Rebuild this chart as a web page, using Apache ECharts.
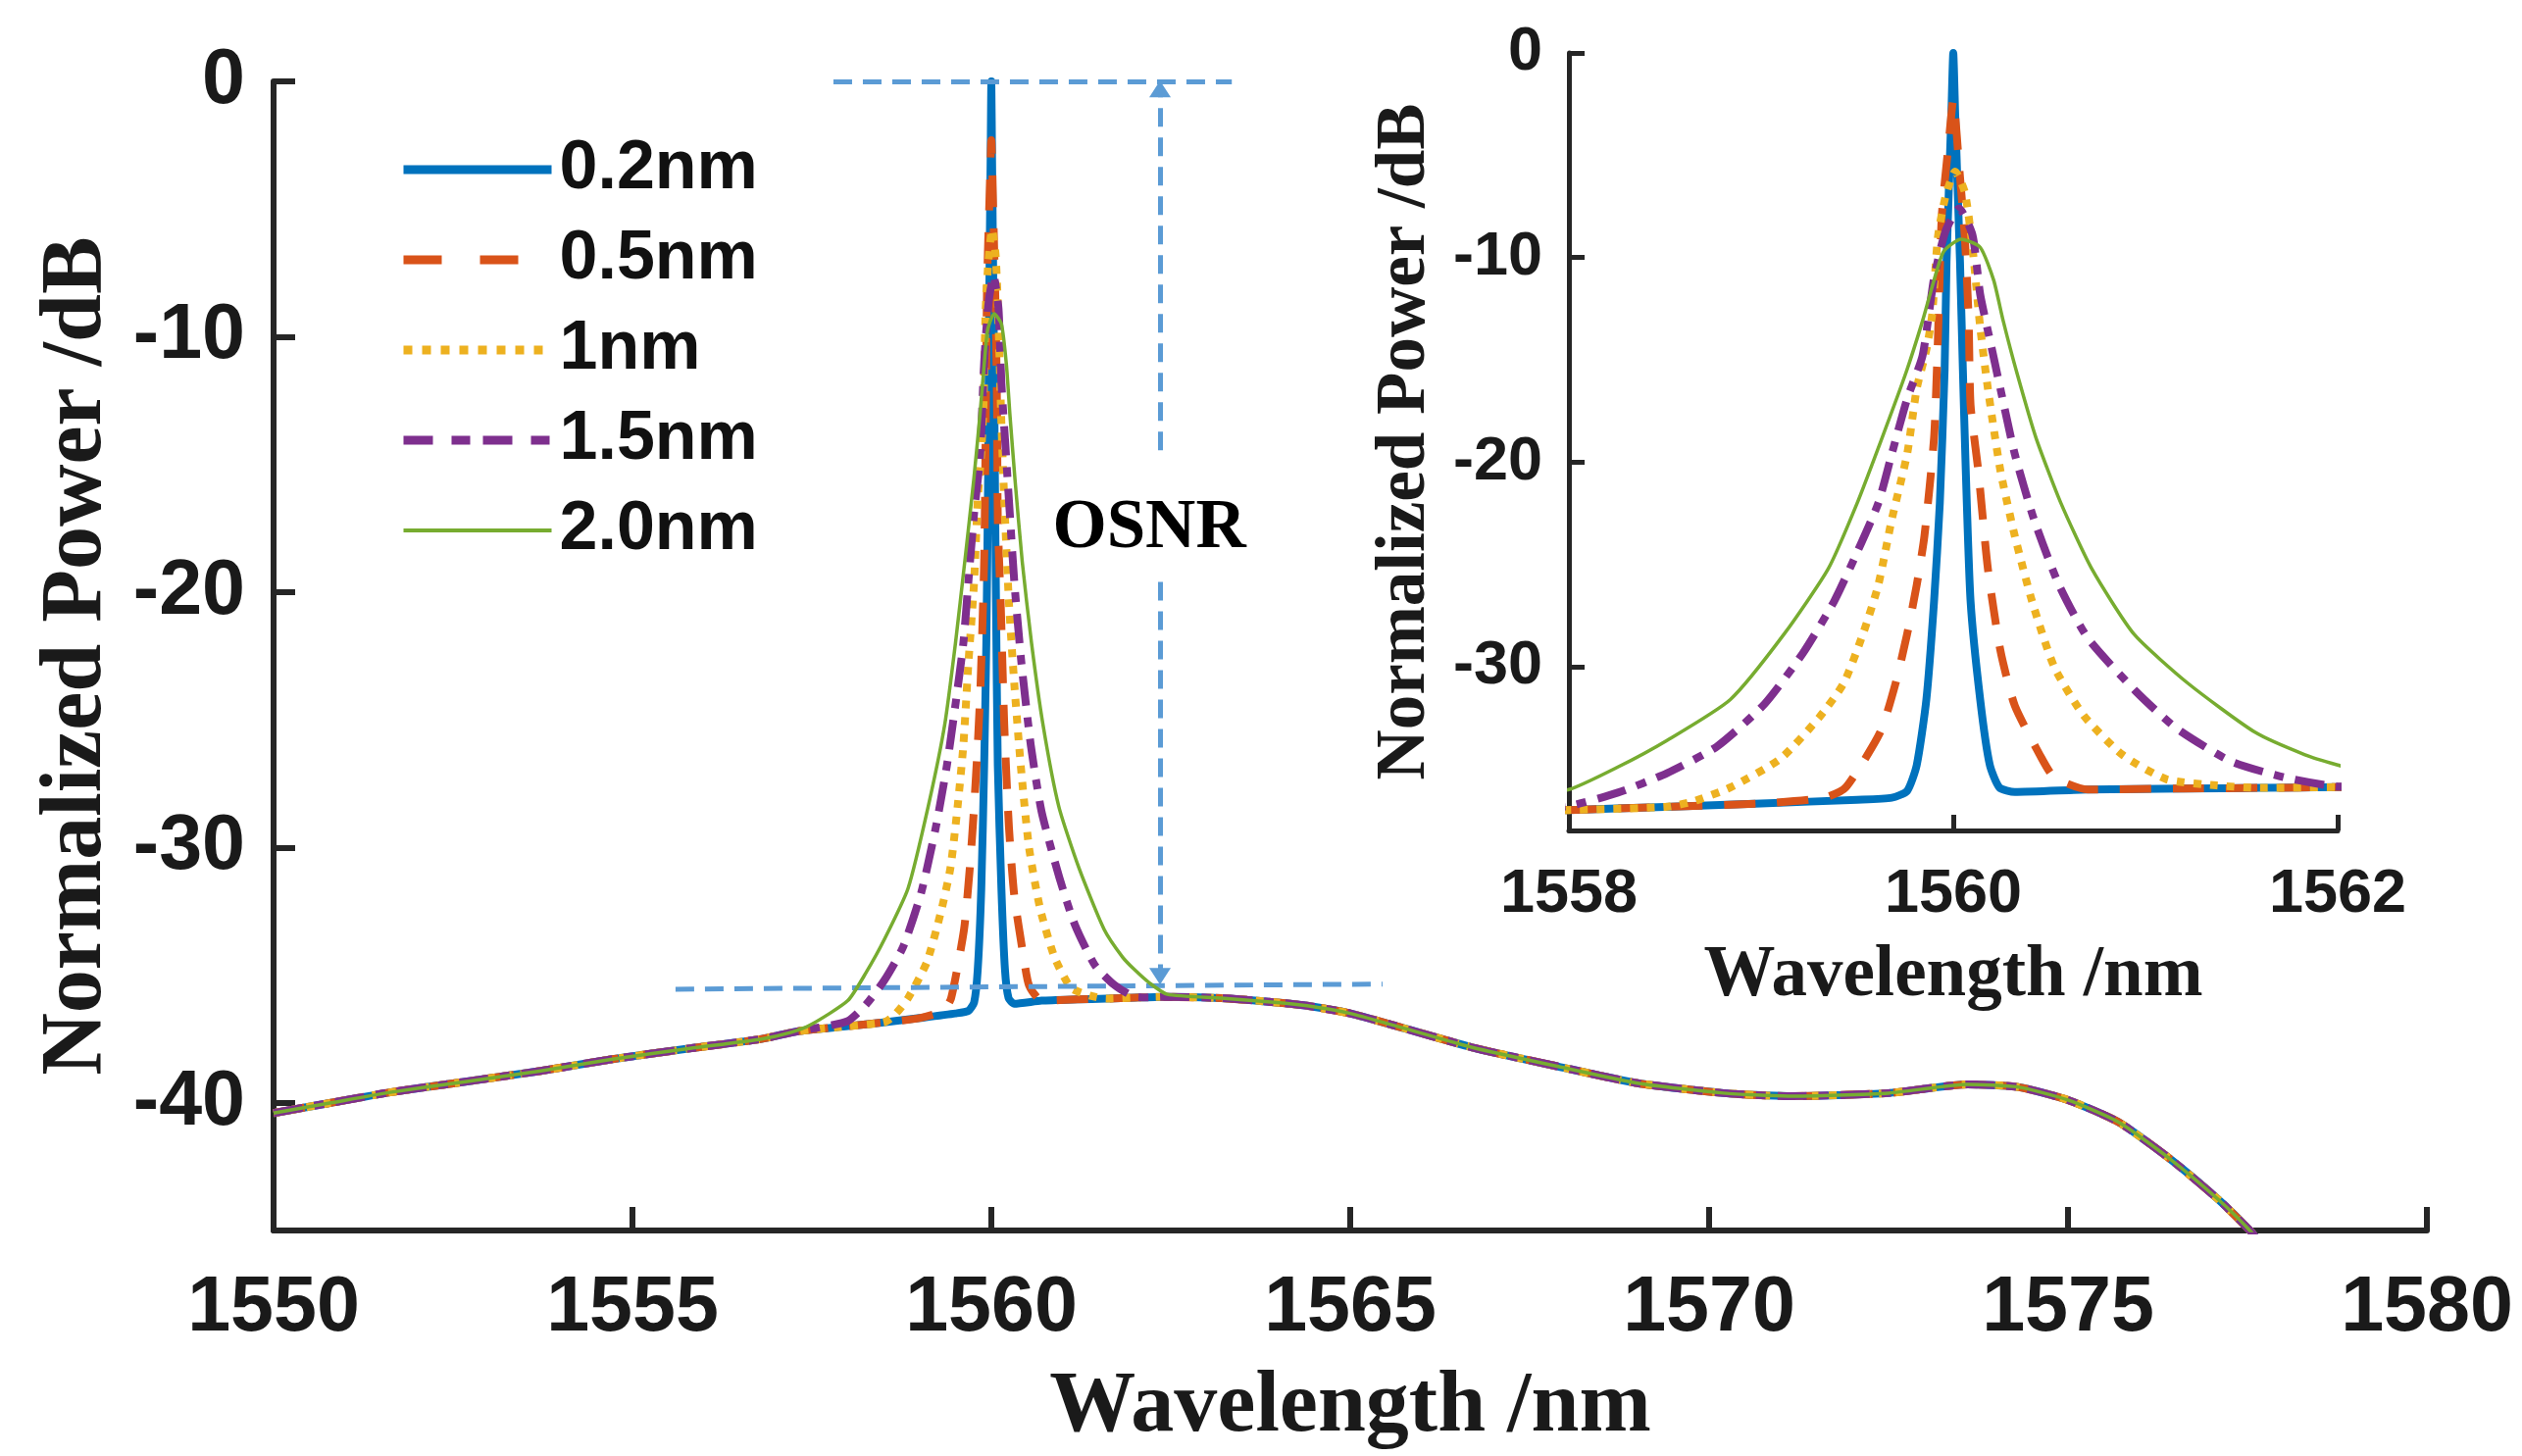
<!DOCTYPE html>
<html>
<head>
<meta charset="utf-8">
<script src="https://cdn.jsdelivr.net/npm/echarts@6/dist/echarts.min.js"></script>
<style>
html,body{margin:0;padding:0;background:#ffffff;}
#chart{width:2572px;height:1485px;}
</style>
</head>
<body>
<div id="chart"></div>
<script>
// ---------------- data ----------------
const seriesNames = ['0.2nm', '0.5nm', '1nm', '1.5nm', '2.0nm'];
const seriesColors = ['#0072BD', '#D95319', '#EDB120', '#7E2F8E', '#77AC30'];

// common ASE background spectrum [wavelength nm, power dB]
const aseBaseline = [
  [1550,-40.4],[1550.8,-40.0],[1551.6,-39.6],[1552.6,-39.2],[1553.7,-38.76],[1554.7,-38.3],
  [1555.8,-37.87],[1556.8,-37.5],[1557.3,-37.2],[1558,-37.0],[1558.5,-36.85],[1559,-36.68],
  [1559.5,-36.5],[1559.68,-36.4],[1560.32,-36.1],[1560.7,-36.0],[1561.2,-35.95],[1561.6,-35.92],
  [1562,-35.88],[1562.4,-35.85],[1563.2,-35.9],[1563.9,-36.05],[1564.4,-36.2],[1565.0,-36.5],
  [1565.6,-36.96],[1566.7,-37.83],[1567.9,-38.58],[1569.0,-39.23],[1570.2,-39.62],[1571.1,-39.74],
  [1572.5,-39.62],[1573.6,-39.28],[1574.3,-39.38],[1575.0,-39.89],[1575.7,-40.75],[1576.4,-42.15],
  [1577.1,-43.8],[1577.55,-45.05],[1577.7,-45.6]
];

// signal peaks around 1560 nm for each filter bandwidth
const peak02 = [
  [1559.5,-36.5],[1559.68,-36.4],[1559.76,-36.07],[1559.81,-34.8],[1559.86,-31.6],[1559.9,-26.8],
  [1559.93,-22],[1559.955,-15.5],[1559.965,-10.2],[1559.99,-3],[1560,0],[1560.01,-3],
  [1560.035,-10.2],[1560.05,-15.5],[1560.065,-20.4],[1560.09,-26.8],[1560.14,-31.6],[1560.19,-34.8],
  [1560.24,-35.9],[1560.32,-36.12]
];
const peak05 = [
  [1559.0,-36.68],[1559.33,-36.4],[1559.44,-35.9],[1559.62,-33.2],[1559.7,-30.8],[1559.76,-28.4],
  [1559.81,-26],[1559.85,-23.6],[1559.9,-18.8],[1559.92,-14],[1559.94,-8],[1559.975,-4.5],
  [1560,-2.3],[1560.03,-5.5],[1560.06,-9],[1560.08,-13],[1560.09,-17.2],[1560.13,-20.4],
  [1560.18,-25.2],[1560.245,-29.2],[1560.32,-31.9],[1560.45,-34.3],[1560.525,-35.4],[1560.7,-36.0]
];
const peak10 = [
  [1558.5,-36.85],[1558.64,-36.6],[1558.84,-35.9],[1559.1,-34.5],[1559.3,-32.5],[1559.43,-30.8],
  [1559.53,-28.4],[1559.61,-26],[1559.68,-22.8],[1559.76,-19.6],[1559.81,-16.4],[1559.86,-14.5],
  [1559.89,-12.8],[1559.92,-9],[1559.96,-7],[1560.01,-5.8],[1560.06,-6.8],[1560.1,-9.5],
  [1560.14,-13.4],[1560.18,-16.4],[1560.245,-20.4],[1560.32,-23.6],[1560.41,-26.8],[1560.525,-30],
  [1560.68,-32.4],[1560.88,-34.3],[1561.11,-35.5],[1561.37,-35.8],[1561.6,-35.92]
];
const peak15 = [
  [1557.3,-37.2],[1557.6,-37.05],[1558,-36.8],[1558.255,-36.15],[1558.51,-35.2],[1558.77,-33.9],
  [1559.02,-31.8],[1559.22,-29.3],[1559.38,-26.8],[1559.5,-24.4],[1559.61,-22],[1559.68,-19.6],
  [1559.76,-16.9],[1559.84,-14.8],[1559.9,-11],[1559.96,-8.7],[1560.03,-7.6],[1560.1,-8.9],
  [1560.14,-11.8],[1560.19,-14],[1560.245,-16.4],[1560.32,-19.6],[1560.42,-22.8],[1560.55,-26],
  [1560.7,-28.6],[1560.95,-31.2],[1561.16,-33.0],[1561.44,-34.6],[1561.72,-35.4],[1562,-35.85],
  [1562.2,-35.87]
];
const peak20 = [
  [1557.2,-37.25],[1557.48,-36.95],[1558,-36.0],[1558.255,-34.9],[1558.51,-33.6],[1558.84,-31.6],
  [1559.12,-28.4],[1559.35,-25.2],[1559.5,-22],[1559.63,-18.8],[1559.755,-15.6],[1559.84,-13.1],
  [1559.9,-11.1],[1559.95,-9.7],[1560.04,-9.1],[1560.14,-9.5],[1560.21,-11.1],[1560.26,-13.1],
  [1560.33,-15.6],[1560.43,-18.8],[1560.56,-22],[1560.72,-25.2],[1560.94,-28.4],[1561.22,-30.8],
  [1561.57,-33.2],[1561.83,-34.3],[1562,-34.8],[1562.2,-35.3],[1562.45,-35.75]
];
const peaks = [peak02, peak05, peak10, peak15, peak20];

// axis ticks
const mainXTicks = [1550, 1555, 1560, 1565, 1570, 1575, 1580];
const mainYTicks = [-40, -30, -20, -10, 0];
const insetXTicks = [1558, 1560, 1562];
const insetYTicks = [-30, -20, -10, 0];

// OSNR annotation (data coordinates)
const osnrTopLine = [[1557.8, 0], [1563.35, 0]];
const osnrBottomLine = [[1555.6, -35.55], [1565.45, -35.35]];
const osnrArrowUp = [[1562.35, -14.45], [1562.35, -0.3]];
const osnrArrowDown = [[1562.35, -19.6], [1562.35, -35.05]];
const osnrLabel = [[1562.2, -17.55]];

// ---------------- build ----------------
function buildCurve(peak) {
  const x0 = peak[0][0], x1 = peak[peak.length - 1][0];
  return aseBaseline.filter(p => p[0] < x0).concat(peak, aseBaseline.filter(p => p[0] > x1));
}
const lineWidths = [8, 8, 8, 8, 3.5];
const lineTypes = ['solid', [32, 22], [8, 9], [30, 12, 10, 12], 'solid'];
const legendWidths = [9, 9, 9, 9, 4];
const legendTypes = ['solid', [39, 39], [9, 10], [30, 19, 19, 13], 'solid'];

const TICK_FONT = 'Liberation Sans, Arial, sans-serif';
const TITLE_FONT = 'Liberation Serif, Times New Roman, serif';
const AX_COLOR = '#262626';

const series = [];
[0, 1].forEach(gi => {
  seriesNames.forEach((name, i) => {
    series.push({
      name: name,
      type: 'line',
      xAxisIndex: gi,
      yAxisIndex: gi,
      data: buildCurve(peaks[i]),
      symbol: 'none',
      showSymbol: false,
      clip: true,
      silent: true,
      smooth: 0.2,
      lineStyle: { color: seriesColors[i], width: lineWidths[i], type: lineTypes[i], cap: 'butt', join: 'round', opacity: 1 },
      itemStyle: { color: seriesColors[i] },
      z: 2 + i
    });
  });
});

const annoStyle = { color: '#5B9BD5', width: 5, type: [19, 11], opacity: 1 };
series.push({
  name: 'OSNR',
  type: 'scatter',
  xAxisIndex: 0,
  yAxisIndex: 0,
  data: osnrLabel,
  symbolSize: 1,
  silent: true,
  itemStyle: { color: 'rgba(255,255,255,0)', opacity: 1 },
  label: {
    show: true, position: 'inside', formatter: 'OSNR',
    fontFamily: TITLE_FONT, fontWeight: 'bold', fontSize: 71, color: '#000000', opacity: 1
  },
  markLine: {
    silent: true,
    animation: false,
    label: { show: false },
    lineStyle: annoStyle,
    itemStyle: { color: '#5B9BD5', opacity: 1 },
    symbolSize: [22, 17],
    data: [
      [{ coord: osnrTopLine[0], symbol: 'none' }, { coord: osnrTopLine[1], symbol: 'none' }],
      [{ coord: osnrBottomLine[0], symbol: 'none' }, { coord: osnrBottomLine[1], symbol: 'none' }],
      [{ coord: osnrArrowUp[0], symbol: 'none' }, { coord: osnrArrowUp[1], symbol: 'triangle' }],
      [{ coord: osnrArrowDown[0], symbol: 'none' }, { coord: osnrArrowDown[1], symbol: 'triangle' }]
    ]
  },
  z: 10
});

function axisCommon(fontSize, margin, tickLen, lw) {
  return {
    axisLine: { show: true, onZero: false, lineStyle: { color: AX_COLOR, width: lw } },
    axisTick: { show: true, inside: true, length: tickLen, lineStyle: { color: AX_COLOR, width: lw } },
    axisLabel: {
      fontFamily: TICK_FONT, fontWeight: 'bold', fontSize: fontSize, color: '#1a1a1a', margin: margin,
      formatter: v => String(v)
    },
    splitLine: { show: false },
    minorTick: { show: false }
  };
}

const mx = axisCommon(79, 41, 24, 6);
const my = axisCommon(79, 29, 22, 6);
const ix = axisCommon(63, 34, 16, 5);
const iy = axisCommon(63, 27, 16, 5);
my.axisLabel.customValues = mainYTicks;
my.axisTick.customValues = mainYTicks;
iy.axisLabel.customValues = insetYTicks;
iy.axisTick.customValues = insetYTicks;

const option = {
  animation: false,
  backgroundColor: '#ffffff',
  grid: [
    { left: 279, top: 83, width: 2196, height: 1172, containLabel: false, outerBoundsMode: 'none' },
    { left: 1600, top: 54, width: 784, height: 793, containLabel: false, outerBoundsMode: 'none' }
  ],
  xAxis: [
    Object.assign({
      type: 'value', gridIndex: 0, min: mainXTicks[0], max: mainXTicks[mainXTicks.length - 1], interval: 5,
      name: 'Wavelength /nm', nameLocation: 'middle', nameGap: 137,
      nameTextStyle: { fontFamily: TITLE_FONT, fontWeight: 'bold', fontSize: 88, color: '#1a1a1a' }
    }, mx),
    Object.assign({
      type: 'value', gridIndex: 1, min: insetXTicks[0], max: insetXTicks[insetXTicks.length - 1], interval: 2,
      name: 'Wavelength /nm', nameLocation: 'middle', nameGap: 113,
      nameTextStyle: { fontFamily: TITLE_FONT, fontWeight: 'bold', fontSize: 73, color: '#1a1a1a' }
    }, ix)
  ],
  yAxis: [
    Object.assign({
      type: 'value', gridIndex: 0, min: -45, max: 0,
      name: 'Normalized Power /dB', nameLocation: 'middle', nameGap: 156,
      nameTextStyle: { fontFamily: TITLE_FONT, fontWeight: 'bold', fontSize: 88, color: '#1a1a1a' }
    }, my),
    Object.assign({
      type: 'value', gridIndex: 1, min: -38, max: 0,
      name: 'Normalized Power /dB', nameLocation: 'middle', nameGap: 131,
      nameTextStyle: { fontFamily: TITLE_FONT, fontWeight: 'bold', fontSize: 71, color: '#1a1a1a' }
    }, iy)
  ],
  legend: {
    data: seriesNames.map((n, i) => ({
      name: n,
      lineStyle: { width: legendWidths[i], type: legendTypes[i], color: seriesColors[i], cap: 'butt', opacity: 1 },
      itemStyle: { opacity: 0, borderWidth: 0 }
    })),
    orient: 'vertical',
    left: 407,
    top: 137,
    padding: 0,
    itemWidth: 151,
    itemHeight: 2,
    itemGap: 20,
    selectedMode: false,
    itemStyle: { opacity: 0, borderWidth: 0 },
    textStyle: {
      fontFamily: TICK_FONT, fontWeight: 'bold', fontSize: 70, color: '#111',
      lineHeight: 72, padding: [0, 0, 0, 3]
    }
  },
  series: series
};

const chart = echarts.init(document.getElementById('chart'), null, { renderer: 'canvas', width: 2572, height: 1485 });
chart.setOption(option);
</script>
</body>
</html>
